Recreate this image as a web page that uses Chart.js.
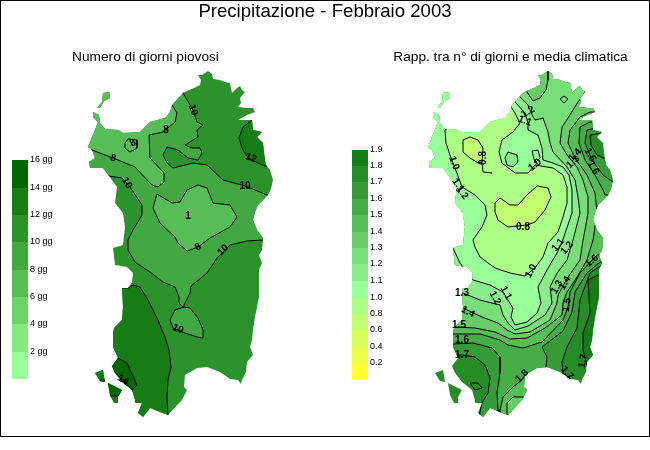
<!DOCTYPE html>
<html><head><meta charset="utf-8">
<style>html,body{margin:0;padding:0;background:#fff}#w{position:relative;width:650px;height:450px;overflow:hidden}
canvas{position:absolute;left:0;top:0}#b{position:absolute;left:0;top:0;width:650px;height:437px;box-sizing:border-box;border:1px solid #000;pointer-events:none}</style>
<script src="https://cdn.jsdelivr.net/npm/chart.js@4"></script></head>
<body><div id="w"><canvas id="c" width="650" height="450"></canvas><div id="b"></div></div>
<script>
const titleText='Precipitazione - Febbraio 2003';
const subtitleLeft='Numero di giorni piovosi';
const subtitleRight='Rapp. tra n° di giorni e media climatica';
// coast (map units)
const coastMain=[[183,93],[187,91],[194,88],[200,85],[201,80],[198,75],[202,75],[205,73],[208,71],[212,74],[213,79],[220,80],[225,82],[230,83],[232,93],[237,88],[240,86],[242,90],[245,92],[240,98],[241,103],[238,107],[247,108],[253,108],[255,112],[247,115],[238,120],[252,120],[253,130],[262,132],[257,137],[263,143],[264,152],[265,160],[266,165],[270,170],[273,180],[271,189],[268,195],[258,205],[255,212],[253,220],[257,230],[263,238],[263,240],[262,250],[259,255],[262,263],[259,270],[259,297],[257,307],[255,317],[253,330],[252,340],[250,347],[253,355],[247,362],[246,372],[242,380],[241,384],[238,380],[230,379],[220,372],[207,367],[197,368],[185,375],[184,387],[187,390],[182,400],[168,415],[160,412],[150,408],[143,417],[138,413],[142,403],[135,403],[135,400],[132,390],[122,382],[115,373],[112,366],[118,358],[113,347],[113,333],[114,328],[122,320],[123,307],[122,288],[128,288],[132,282],[133,273],[127,267],[115,265],[113,248],[123,245],[125,227],[123,213],[115,203],[117,187],[109,176],[103,168],[95,168],[90,168],[89,162],[95,158],[92,150],[88,147],[95,130],[98,122],[93,117],[93,112],[99,115],[100,123],[105,129],[118,130],[123,133],[140,132],[150,122],[165,118],[170,112],[172,105]];
const coastAsinara=[[97,108],[102,102],[103,93],[110,92],[110,98],[104,101],[100,108]];
const coastSanPietro=[[95,373],[103,370],[105,382],[100,381]];
const coastSantAntioco=[[108,383],[122,390],[118,397],[118,403],[114,403],[110,395]];
const seaBox=[[50,50],[300,50],[300,432],[50,432]];
// left map regions
const lBand8=[[183,93],[193,110],[197,122],[203,125],[197,130],[198,137],[185,145],[192,148],[200,148],[202,153],[198,160],[188,158],[178,150],[167,147],[163,155],[167,163],[173,168],[193,163],[207,165],[223,180],[245,186],[267,195],[285,195],[285,240],[263,240],[247,241],[230,245],[217,258],[207,273],[191,286],[190,293],[183,307],[179,303],[179,297],[175,287],[163,282],[150,272],[135,262],[128,250],[128,240],[133,230],[142,215],[142,205],[130,187],[122,178],[109,176],[60,176],[60,60],[183,60]];
const lBand6North=[[92,150],[113,158],[135,167],[152,185],[158,187],[164,182],[164,173],[150,158],[149,135],[163,132],[175,122],[177,113],[172,105],[150,60],[60,60],[60,150]];
const lLoopNorth=[[125,143],[128,139],[137,140],[137,148],[130,152],[125,148]];
const lBand6Central=[[157,194],[172,203],[180,202],[187,190],[198,185],[207,188],[213,203],[230,205],[237,217],[230,227],[210,238],[198,247],[187,251],[178,243],[175,237],[160,223],[153,208]];
const lBand8South=[[184,307],[175,310],[170,320],[173,328],[185,333],[197,337],[203,338],[203,330],[198,318],[190,308]];
const lBand12West=[[128,288],[133,285],[140,287],[148,300],[157,318],[165,337],[169,350],[171,367],[168,380],[167,397],[168,415],[168,432],[60,432],[60,288]];
const lBand14West=[[118,358],[127,363],[137,385],[132,390],[115,372],[105,366]];
const lBand14Isle=[[100,380],[125,380],[125,390],[118,396],[100,396]];
const lBand12East=[[252,120],[243,127],[239,138],[242,148],[248,158],[260,164],[265,166],[300,166],[300,120]];
// right map regions: each polygon is "value below a level"
const rBelow17=[[60,355],[122,355],[135,357],[145,365],[150,378],[148,393],[142,403],[140,412],[138,430],[230,430],[230,378],[223,373],[222,362],[227,347],[237,328],[240,300],[250,273],[262,265],[300,265],[300,158],[263,158],[257,155],[251,145],[250,135],[262,133],[300,133],[300,50],[60,50]];
const rAbove18East=[[247,366],[243,350],[243,333],[250,313],[248,280],[258,275],[290,275],[290,366]];
const rBelow16=[[60,344],[113,344],[133,343],[152,348],[160,357],[160,373],[157,393],[158,410],[158,430],[206,430],[206,367],[207,357],[202,347],[223,331],[232,312],[235,292],[247,273],[260,262],[300,262],[300,182],[273,182],[263,175],[252,160],[245,143],[247,130],[257,128],[300,128],[300,50],[60,50]];
const rSouthRing=[[185,375],[182,380],[173,387],[163,397],[160,410],[160,430],[200,430],[200,375]];
const rSouthTip=[[167,410],[167,403],[173,397],[187,397],[200,397],[200,430],[167,430]];
const rBelow15=[[60,334],[113,334],[140,334],[160,340],[168,345],[183,348],[202,342],[223,320],[228,307],[230,292],[240,273],[257,255],[300,255],[300,195],[265,195],[263,190],[255,175],[245,160],[239,143],[240,127],[250,122],[300,122],[300,50],[60,50]];
const rBelow14=[[60,327],[115,327],[135,328],[155,332],[170,339],[187,338],[205,328],[222,315],[223,303],[227,292],[237,277],[247,260],[253,240],[257,213],[255,193],[247,175],[235,158],[228,143],[230,130],[240,117],[250,112],[300,112],[300,50],[60,50]];
const rBelow13=[[60,308],[123,308],[142,317],[158,323],[167,330],[175,334],[190,332],[210,320],[217,303],[218,295],[228,277],[240,260],[243,240],[245,230],[248,213],[248,197],[243,180],[237,167],[227,155],[220,143],[222,127],[228,118],[238,102],[245,92],[245,60],[208,60],[208,80],[206,90],[200,98],[193,101],[187,92],[180,60],[60,60]];
const rBelow12=[[60,293],[123,293],[140,300],[160,305],[163,315],[168,323],[175,330],[188,326],[205,315],[212,303],[210,287],[217,273],[227,260],[233,240],[240,213],[238,197],[235,180],[227,167],[213,152],[210,143],[208,132],[203,118],[195,120],[193,117],[188,105],[180,97],[160,60],[60,60]];
const rBelow11=[[60,248],[113,248],[120,263],[133,280],[150,285],[163,292],[173,308],[171,317],[175,325],[187,322],[197,313],[201,303],[198,287],[207,270],[217,253],[222,242],[232,213],[232,190],[229,175],[223,167],[213,163],[203,160],[202,148],[198,135],[188,130],[188,123],[185,113],[175,102],[160,60],[60,60]];
const rBelow10=[[105,130],[106,143],[110,155],[115,168],[122,187],[135,195],[145,205],[147,215],[142,227],[133,240],[135,247],[140,257],[155,268],[170,273],[185,276],[195,268],[203,257],[208,243],[218,232],[223,217],[227,203],[227,187],[223,175],[213,168],[195,165],[188,173],[175,173],[162,163],[159,152],[162,140],[173,132],[180,123],[175,113],[171,107],[150,60],[112,60],[112,125]];
const rBlobNorth=[[165,158],[168,152],[177,155],[178,162],[173,167],[167,165]];
const rLoopTail=[[192,151],[198,150],[200,158],[195,163]];
const rLow08A=[[123,140],[130,137],[138,140],[143,148],[142,162],[138,163],[130,158],[123,152]];
const rLow08B=[[155,203],[160,198],[170,205],[178,205],[187,195],[197,186],[208,188],[211,197],[205,210],[195,222],[187,225],[168,227],[158,220],[155,212]];
const rDiamond=[[224,96],[220,99],[224,103],[228,99]];
const rLoopSouthWest=[[130,383],[138,383],[142,388],[135,390]];
const rTail08=[[142,162],[143,172],[152,173]];
// legends
const legendLeftColors=['#99FF99','#83E983','#6DD36D','#57BD57','#42A842','#2C922C','#167C16','#006600'];
const legendLeftLabels=['2 gg','4 gg','6 gg','8 gg','10 gg','12 gg','14 gg','16 gg'];
const legendLeftEdges=[379,352,324,297,270,242,215,188,160];
const legendRightColors=['#FFFF33','#EBFF47','#D6FF5C','#C2FF70','#ADFF85','#99FF99','#89EE89','#78DE78','#68CD68','#57BD57','#47AD47','#379C37','#268C26','#167C16'];
const legendRightLabels=['0.2','0.4','0.6','0.8','1.0','1.1','1.2','1.3','1.4','1.5','1.6','1.7','1.8','1.9'];
const legendRightEdges=[379,363,347,330,314,298,281,264,248,232,215,199,182,166,150];
// contour labels [text,x,y,rotation]
const leftContourLabels=[['10',193,110,70],['8',166,130,0],['8',133,143,-30],['8',113,158,20],['10',127,183,60],['12',251,158,20],['10',245,186,0],['1',188,216,0],['8',198,247,-30],['10',223,250,-45],['10',178,329,20],['14',123,380,30]];
const rightContourLabels=[['1.0',114,163,70],['1.1',118,185,55],['1.2',122,193,50],['0.8',143,158,-90],['0.8',183,227,0],['1.0',195,165,-40],['1.2',188,112,-30],['1.1',185,121,20],['1.4',235,155,-45],['1.3',233,162,-45],['1.5',250,155,60],['1.6',253,168,60],['1.1',218,245,-50],['1.2',227,248,-50],['1.0',191,271,-60],['1.1',166,293,60],['1.2',155,298,60],['1.3',122,293,0],['1.4',128,312,30],['1.5',119,325,0],['1.6',122,340,0],['1.7',122,355,0],['1.3',217,287,-60],['1.4',225,283,-60],['1.5',227,305,-80],['1.6',252,261,-40],['1.7',243,361,-80],['1.7',227,373,50],['1.8',182,376,-45]];

const pts=a=>a.map(p=>({x:p[0],y:p[1]}));
function poly(points,color,axis,opts){
  const closed=points.concat([points[0]]);
  return Object.assign({type:'scatter',data:pts(closed),showLine:true,tension:0,pointRadius:0,pointHoverRadius:0,
    borderColor:'#000',borderWidth:1,backgroundColor:color,xAxisID:axis,yAxisID:'y',clip:false,polyFill:true,coastClip:true},opts||{});
}
function line(points,axis){return {type:'scatter',data:pts(points),showLine:true,tension:0,pointRadius:0,borderColor:'#000',borderWidth:1,xAxisID:axis,yAxisID:'y',clip:false,coastClip:true};}
function cells(colors,edges,x0,x1){return colors.map((c,i)=>poly([[x0,edges[i]],[x1,edges[i]],[x1,edges[i+1]],[x0,edges[i+1]]],c,'xL',{borderWidth:0,coastClip:false}));}
const paint=[
  poly(seaBox,'#2C922C','xL',{borderWidth:0}),
  poly(lBand8,'#42A842','xL'),poly(lBand6North,'#57BD57','xL'),poly(lLoopNorth,'#57BD57','xL'),
  poly(lBand6Central,'#57BD57','xL'),poly(lBand8South,'#42A842','xL'),poly(lBand12West,'#167C16','xL'),
  poly(lBand14West,'#006600','xL'),poly(lBand14Isle,'#006600','xL'),poly(lBand12East,'#167C16','xL'),
  poly(seaBox,'#268C26','xR',{borderWidth:0}),
  poly(rAbove18East,'#167C16','xR'),poly(rBelow17,'#379C37','xR'),poly(rBelow16,'#47AD47','xR'),
  poly(rSouthRing,'#57BD57','xR'),poly(rSouthTip,'#68CD68','xR'),poly(rBelow15,'#57BD57','xR'),
  poly(rBelow14,'#68CD68','xR'),poly(rBelow13,'#78DE78','xR'),poly(rBelow12,'#89EE89','xR'),
  poly(rBelow11,'#99FF99','xR'),poly(rBelow10,'#ADFF85','xR'),poly(rBlobNorth,'#89EE89','xR'),
  poly(rLoopTail,'#99FF99','xR'),poly(rLow08A,'#C2FF70','xR'),poly(rLow08B,'#C2FF70','xR'),
  poly(rDiamond,'#78DE78','xR'),poly(rLoopSouthWest,'#268C26','xR'),line(rTail08,'xR'),
  ...cells(legendLeftColors,legendLeftEdges,12,28),
  ...cells(legendRightColors,legendRightEdges,352,368)
];
const coastParts=[coastMain,coastAsinara,coastSanPietro,coastSantAntioco];
const mapPlugin={id:'mapPlugin',
  beforeDatasetDraw(chart,args){
    const ds=chart.data.datasets[args.index],ctx=chart.ctx,xs=chart.scales[ds.xAxisID],ys=chart.scales.y;
    ctx.save();
    if(ds.coastClip){
      ctx.beginPath();
      coastParts.forEach(part=>{part.forEach((p,i)=>{const X=xs.getPixelForValue(p[0]),Y=ys.getPixelForValue(p[1]);i?ctx.lineTo(X,Y):ctx.moveTo(X,Y);});ctx.closePath();});
      ctx.clip();
    }
    if(ds.polyFill){
      ctx.beginPath();
      args.meta.data.forEach((pt,i)=>{i?ctx.lineTo(pt.x,pt.y):ctx.moveTo(pt.x,pt.y);});
      ctx.closePath();ctx.fillStyle=ds.backgroundColor;ctx.fill();
    }
  },
  afterDatasetDraw(chart){chart.ctx.restore();},
  afterDatasetsDraw(chart){
    const ctx=chart.ctx,y=chart.scales.y,xL=chart.scales.xL,xR=chart.scales.xR;
    ctx.save();ctx.fillStyle='#000';ctx.textBaseline='middle';ctx.textAlign='center';
    ctx.font='13.7px "Liberation Sans"';
    ctx.fillText(subtitleLeft,xL.getPixelForValue(145.5),y.getPixelForValue(57));
    ctx.fillText(subtitleRight,xL.getPixelForValue(510.5),y.getPixelForValue(57));
    const put=(list,sc)=>list.forEach(l=>{ctx.save();ctx.translate(sc.getPixelForValue(l[1]),y.getPixelForValue(l[2]));ctx.rotate(l[3]*Math.PI/180);ctx.fillText(l[0],0,0);ctx.restore();});
    ctx.font='bold 10px "Liberation Sans"';
    put(leftContourLabels,xL);put(rightContourLabels,xR);
    ctx.font='9px "Liberation Sans"';ctx.textAlign='left';
    legendLeftLabels.forEach((t,i)=>ctx.fillText(t,xL.getPixelForValue(30),y.getPixelForValue(legendLeftEdges[i+1])));
    legendRightLabels.forEach((t,i)=>ctx.fillText(t,xL.getPixelForValue(370),y.getPixelForValue(legendRightEdges[i+1])));
    ctx.restore();
  }
};
new Chart(document.getElementById('c'),{type:'scatter',
  data:{datasets:paint.slice().reverse()},
  options:{responsive:false,animation:false,devicePixelRatio:1,layout:{padding:0},events:[],
    plugins:{legend:{display:false},tooltip:{enabled:false},
      title:{display:true,text:titleText,color:'#000',padding:0,font:{family:'"Liberation Sans"',size:18.6,weight:'normal',lineHeight:'23px'}}},
    scales:{xL:{type:'linear',axis:'x',min:0,max:650,display:false},xR:{type:'linear',axis:'x',min:-340,max:310,display:false},
      y:{type:'linear',axis:'y',min:23,max:450,reverse:true,display:false}}},
  plugins:[mapPlugin]});
</script></body></html>
